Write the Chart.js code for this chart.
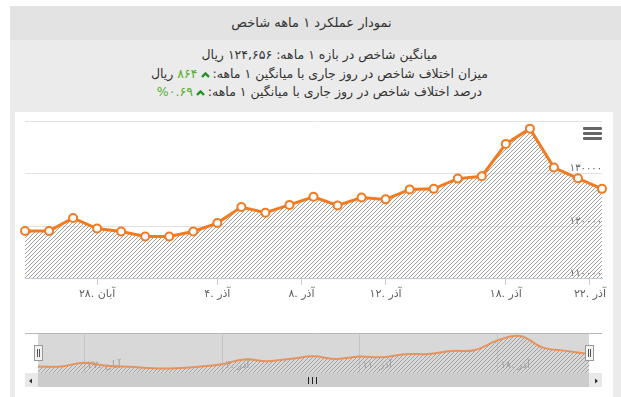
<!DOCTYPE html>
<html>
<head>
<meta charset="utf-8">
<script src="https://cdn.jsdelivr.net/npm/chart.js@4"></script>
<style>
  body { margin: 0; background: #fff; font-family: "DejaVu Sans", sans-serif; }
  #box { position: absolute; left: 10px; top: 6px; width: 611px; height: 391px; background: #ebebeb; }
  #title { height: 34px; line-height: 34px; background: #e3e3e3; text-align: center; font-size: 13px; color: #333; padding-right: 8px; }
  #info { direction: rtl; text-align: center; font-size: 12.5px; color: #333; line-height: 18.5px; padding-top: 6px; padding-left: 8px; }
  .up { color: #55ad2c; }
  .caret { display: inline-block; width: 9px; height: 6px; margin: 0 3px; }
  #panel { position: absolute; left: 15px; top: 112px; width: 598px; height: 285px; background: #fff; }
  #menu { position: absolute; left: 568px; top: 15px; width: 19px; }
  #menu div { height: 3px; background: #666; margin-bottom: 2px; border-radius: 1px; }
  .handle { position: absolute; top: 233px; width: 7px; height: 14px; background: #f2f2f2; border: 1px solid #999; }
  .handle div { position: absolute; top: 3px; width: 1px; height: 8px; background: #555; }
  #scroll { position: absolute; left: 10px; top: 261px; width: 577px; height: 14px; background: #eee; }
  #bar { position: absolute; left: 13px; width: 551px; height: 14px; background: #cccccc; }
  #grip { position: absolute; left: 270px; top: 4px; width: 9px; height: 7px; }
  #grip div { position: absolute; top: 0; width: 1px; height: 7px; background: #222; }
  .btn { position: absolute; top: 0; width: 13px; height: 14px; background: #e8e8e8; }
</style>
</head>
<body>
<div id="box">
  <div id="title">نمودار عملکرد ۱ ماهه شاخص</div>
  <div id="info">
    <div>میانگین شاخص در بازه ۱ ماهه: ۱۲۴,۶۵۶ ریال</div>
    <div>میزان اختلاف شاخص در روز جاری با میانگین ۱ ماهه:<svg class="caret" viewBox="0 0 9 6"><polyline points="1,5 4.5,1.5 8,5" fill="none" stroke="#1f8f1f" stroke-width="2.4"/></svg><span class="up">۸۶۴</span> ریال</div>
    <div>درصد اختلاف شاخص در روز جاری با میانگین ۱ ماهه:<svg class="caret" viewBox="0 0 9 6"><polyline points="1,5 4.5,1.5 8,5" fill="none" stroke="#1f8f1f" stroke-width="2.4"/></svg><span class="up">۰.۶۹%</span></div>
  </div>
</div>
<div id="panel">
  <canvas id="mainChart" width="598" height="200" style="position:absolute;left:0;top:0"></canvas>
  <div id="menu"><div></div><div></div><div></div></div>
  <canvas id="navChart" width="577" height="40" style="position:absolute;left:10px;top:221px"></canvas>
  <div class="handle" style="left:19px"><div style="left:2px"></div><div style="left:4px"></div></div>
  <div class="handle" style="left:570px"><div style="left:2px"></div><div style="left:4px"></div></div>
  <div id="scroll">
    <div class="btn" style="left:0"><svg width="13" height="14"><polygon points="4,7 7,4.5 7,9.5" fill="#333"/></svg></div>
    <div id="bar"><div id="grip"><div style="left:0"></div><div style="left:4px"></div><div style="left:8px"></div></div></div>
    <div class="btn" style="left:564px"><svg width="13" height="14"><polygon points="9,7 6,4.5 6,9.5" fill="#333"/></svg></div>
  </div>
</div>
<script>
// مقادیر روزانه شاخص (ریال)
const values = [119100, 119100, 121550, 119550, 119000, 118050, 118050, 119000, 120600, 123650,
    122550, 124050, 125600, 123950, 125450, 125100, 127000, 127100, 129050, 129500,
    135650, 138550, 131150, 129100, 127100];

// برچسب های محور افقی
const tickPos = [3, 8, 11.5, 15, 20, 23.5];
const tickLabels = ['۲۸. آبان', '۴. آذر', '۸. آذر', '۱۲. آذر', '۱۸. آذر', '۲۲. آذر'];

// محور عمودی
const yMin = 110000;
const yMax = 140000;
const yStep = 10000;

// نوار ناوبری پایین
const navTickPos = [2, 8, 14, 20];
const navTickLabels = ['۲۷. آبان', '۴. آذر', '۱۱. آذر', '۱۸. آذر'];

const orange = '#f27b21';
const fontFamily = '"DejaVu Sans", sans-serif';

function fa(n) {
    return String(n).replace(/\d/g, d => '۰۱۲۳۴۵۶۷۸۹'[d]);
}

// الگوی هاشور
function hatch(bg) {
    const c = document.createElement('canvas');
    c.width = 4; c.height = 4;
    const g = c.getContext('2d');
    if (bg) { g.fillStyle = bg; g.fillRect(0, 0, 4, 4); }
    g.strokeStyle = '#a0a0a0';
    g.lineWidth = 1;
    g.beginPath();
    g.moveTo(0, 4); g.lineTo(4, 0);
    g.moveTo(-1, 1); g.lineTo(1, -1);
    g.moveTo(3, 5); g.lineTo(5, 3);
    g.stroke();
    return g.createPattern(c, 'repeat');
}

const points = values.map((v, i) => ({ x: i, y: v }));

let mainChart;
let navChart;

function createMainChart() {
    const ctx = document.getElementById('mainChart').getContext('2d');
    mainChart = new Chart(ctx, {
        type: 'line',
        data: {
            datasets: [{
                data: points,
                borderColor: orange,
                borderWidth: 3,
                backgroundColor: hatch(),
                fill: 'start',
                tension: 0,
                pointRadius: 4,
                pointBorderWidth: 2,
                pointBackgroundColor: '#fff',
                pointBorderColor: orange,
                clip: false
            }]
        },
        options: {
            responsive: false,
            animation: false,
            layout: { padding: { left: 10, right: 11, top: 9, bottom: 8 } },
            plugins: { legend: { display: false }, tooltip: { enabled: false } },
            scales: {
                x: {
                    type: 'linear',
                    min: 0,
                    max: values.length - 1,
                    afterBuildTicks: scale => { scale.ticks = tickPos.map(v => ({ value: v })); },
                    ticks: {
                        autoSkip: false,
                        maxRotation: 0,
                        padding: 3,
                        color: '#606060',
                        font: { family: fontFamily, size: 11 },
                        callback: (v, i) => tickLabels[i]
                    },
                    grid: { drawOnChartArea: false, drawTicks: true, tickLength: 6, tickColor: '#c0d0e0' },
                    border: { color: '#c0d0e0' }
                },
                y: {
                    position: 'right',
                    min: yMin,
                    max: yMax,
                    ticks: {
                        stepSize: yStep,
                        mirror: true,
                        padding: 0,
                        labelOffset: -5,
                        color: '#606060',
                        font: { family: fontFamily, size: 10 },
                        callback: v => v === yMax ? '' : fa(v)
                    },
                    grid: { color: '#e2e2e2', drawTicks: false },
                    border: { display: false }
                }
            }
        }
    });
}

// پس زمینه و برچسب های ناوبر
const navBack = {
    id: 'navBack',
    beforeDatasetsDraw(chart) {
        const { ctx, chartArea: a, scales: { x } } = chart;
        ctx.save();
        const x0 = x.getPixelForValue(0);
        const x1 = x.getPixelForValue(values.length - 1);
        ctx.fillStyle = '#d8d8d8';
        ctx.fillRect(x0, a.top, x1 - x0, a.bottom - a.top);
        ctx.strokeStyle = '#c4c4c4';
        ctx.lineWidth = 1;
        ctx.font = '10px ' + fontFamily;
        ctx.fillStyle = 'rgba(130,130,130,0.7)';
        ctx.textBaseline = 'middle';
        navTickPos.forEach((p, i) => {
            const px = Math.round(x.getPixelForValue(p)) + 0.5;
            ctx.beginPath();
            ctx.moveTo(px, a.top);
            ctx.lineTo(px, a.bottom);
            ctx.stroke();
            ctx.fillText(navTickLabels[i], px + 3, a.bottom - 8);
        });
        ctx.strokeStyle = '#b8b8b8';
        ctx.beginPath();
        ctx.moveTo(a.left, a.top + 0.5);
        ctx.lineTo(a.right, a.top + 0.5);
        ctx.stroke();
        ctx.restore();
    }
};

function createNavChart() {
    const ctx = document.getElementById('navChart').getContext('2d');
    navChart = new Chart(ctx, {
        type: 'line',
        data: {
            datasets: [{
                data: points,
                borderColor: 'rgba(232,140,80,0.9)',
                borderWidth: 2,
                backgroundColor: hatch(),
                fill: 'start',
                tension: 0.4,
                pointRadius: 0
            }]
        },
        options: {
            responsive: false,
            animation: false,
            layout: { padding: 0 },
            plugins: { legend: { display: false }, tooltip: { enabled: false } },
            scales: {
                x: { type: 'linear', min: -0.566, max: 24.566, display: false },
                y: { min: 115000, max: 140500, display: false }
            }
        },
        plugins: [navBack]
    });
}

window.onload = function () {
    createMainChart();
    createNavChart();
};
</script>
</body>
</html>
